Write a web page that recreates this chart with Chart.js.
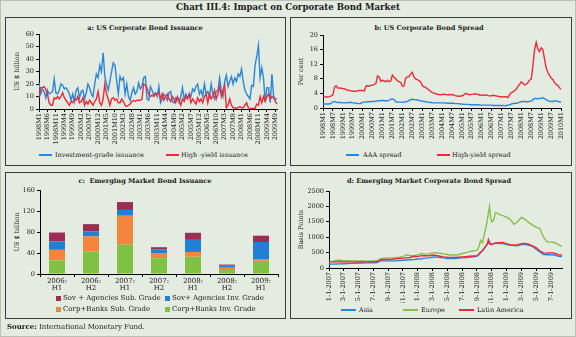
<!DOCTYPE html>
<html>
<head>
<meta charset="utf-8">
<script src="https://cdn.jsdelivr.net/npm/chart.js@4.4.1/dist/chart.umd.min.js"></script>
<style>
body{margin:0;width:576px;height:337px;background:#e4ebe0;position:relative;overflow:hidden;font-family:"DejaVu Serif",serif;color:#1a1a1a;}
.frame{position:absolute;left:0;top:0;width:576px;height:337px;box-sizing:border-box;border:1px solid #b9c1b5;}
.panel{position:absolute;border:1px solid #3a3a3a;box-sizing:border-box;}
.main{position:absolute;top:2px;left:0;width:576px;text-align:center;font-weight:bold;font-size:8.6px;}
.pt{position:absolute;font-weight:bold;font-size:6.6px;transform:translateX(-50%);white-space:nowrap;}
.lt{position:absolute;font-size:6.5px;white-space:nowrap;line-height:8px;}
.ll{position:absolute;height:2px;}
.sq{position:absolute;width:5px;height:5px;}
canvas{position:absolute;}
</style>
</head>
<body>
<div class="frame"></div>
<div class="main">Chart III.4: Impact on Corporate Bond Market</div>

<div class="panel" style="left:5px;top:17px;width:281px;height:149px;"></div>
<div class="panel" style="left:290px;top:17px;width:282px;height:149px;"></div>
<div class="panel" style="left:5px;top:172px;width:281px;height:147px;"></div>
<div class="panel" style="left:290px;top:172px;width:282px;height:147px;"></div>

<div class="pt" style="left:145px;top:24px;">a: US Corporate Bond Issuance</div>
<div class="pt" style="left:429px;top:24px;">b: US Corporate Bond Spread</div>
<div class="pt" style="left:145px;top:177px;">c:&nbsp; Emerging Market Bond Issuance</div>
<div class="pt" style="left:429px;top:177px;">d: Emerging Market Corporate Bond Spread</div>

<canvas id="cA" width="279" height="128" style="left:6px;top:18px;"></canvas>
<canvas id="cB" width="280" height="128" style="left:291px;top:18px;"></canvas>
<canvas id="cC" width="279" height="118" style="left:6px;top:173px;"></canvas>
<canvas id="cD" width="280" height="130" style="left:291px;top:173px;"></canvas>

<!-- legends -->
<div class="ll" style="left:39px;top:154px;width:13px;background:#2a86d8;"></div>
<div class="lt" style="left:55px;top:151px;">Investment-grade issuance</div>
<div class="ll" style="left:166px;top:154px;width:13px;background:#ec2a3c;"></div>
<div class="lt" style="left:181px;top:151px;">High -yield issuance</div>

<div class="ll" style="left:346px;top:154px;width:13px;background:#2a86d8;"></div>
<div class="lt" style="left:363px;top:151px;">AAA spread</div>
<div class="ll" style="left:437px;top:154px;width:13px;background:#ec2a3c;"></div>
<div class="lt" style="left:452px;top:151px;">High-yield spread</div>

<div class="sq" style="left:56px;top:296px;background:#9c2d55;"></div>
<div class="lt" style="left:63px;top:294px;font-size:7px;">Sov + Agencies Sub. Grade</div>
<div class="sq" style="left:165px;top:296px;background:#1f80d4;"></div>
<div class="lt" style="left:172px;top:294px;font-size:7px;">Sov+ Agencies Inv. Grade</div>
<div class="sq" style="left:56px;top:307px;background:#f5843c;"></div>
<div class="lt" style="left:63px;top:305px;font-size:7px;">Corp+Banks Sub. Grade</div>
<div class="sq" style="left:165px;top:307px;background:#80c144;"></div>
<div class="lt" style="left:172px;top:305px;font-size:7px;">Corp+Banks Inv. Grade</div>

<div class="ll" style="left:341px;top:309px;width:15px;background:#2a86d8;"></div>
<div class="lt" style="left:359px;top:306px;">Asia</div>
<div class="ll" style="left:403px;top:309px;width:15px;background:#86bf4a;"></div>
<div class="lt" style="left:421px;top:306px;">Europe</div>
<div class="ll" style="left:459px;top:309px;width:15px;background:#ec2a3c;"></div>
<div class="lt" style="left:477px;top:306px;">Latin America</div>

<div class="lt" style="left:7px;top:323px;font-size:7px;"><b>Source:</b> International Monetary Fund.</div>

<script>
//颜色
var BLUE = "#2a86d8";
var RED = "#ec2a3c";
var GREEN = "#86bf4a";

//a: 美国公司债发行 (US$ bn), 1998M1 起按月
var invGrade = [21,12,16,14,9,15,12,13,14,24,13,12,
	15,20,19,16,17,15,12,7,12,6,15,17,
	9,14,15,8,13,20,17,12,10,20,28,25,
	35,30,45,26,20,15,22,30,37,35,23,12,
	26,23,25,12,20,10,7,13,17,12,14,21,
	16,18,25,26,8,7,18,15,11,13,10,18,
	5,8,12,10,7,13,14,6,5,9,8,5,
	10,17,8,12,9,12,10,16,14,18,20,12,
	15,10,20,12,14,10,20,12,8,14,15,25,
	15,10,22,27,18,22,26,20,25,22,28,26,
	32,22,15,12,10,8,19,18,35,42,51,25,
	33,25,6,17,17,5,28,10,8,8];
var highYield = [9,17,17,18,16,12,5,3,3,9,8,10,
	8,10,13,9,7,5,3,6,5,8,7,10,
	5,6,9,3,6,4,7,5,3,6,8,14,
	5,3,8,20,12,8,3,8,9,7,8,5,
	5,8,6,3,2,3,4,6,7,6,7,7,
	7,8,20,19,17,12,10,11,10,12,12,13,
	8,12,7,10,12,8,6,10,8,5,10,7,
	3,8,6,10,8,12,5,8,6,4,9,6,
	8,5,10,12,5,12,8,10,15,8,12,18,
	10,15,19,1,3,8,3,1,1,0.5,1,2,
	1,1,3,5,1,0.5,0.5,0.5,0.5,4,3,10,
	5,10,6,10,12,8,10,9,6,4];

//b: 美国公司债利差 (per cent), 1998M1 - 2010M1
var hySpread = [3.2,3.1,3.0,3.0,3.1,3.3,3.6,5.8,6.1,5.4,5.5,5.4,
	5.3,5.3,5.0,4.9,4.8,4.7,4.6,4.6,4.6,4.7,4.8,4.8,
	4.8,4.7,6.0,6.1,6.0,6.2,6.2,6.5,6.7,8.8,8.5,7.3,
	7.6,7.4,7.2,7.6,7.2,7.4,9.0,8.4,8.0,7.5,7.2,7.0,
	6.0,6.0,8.2,8.5,8.6,9.3,9.8,8.5,8.0,7.8,7.5,7.2,
	6.2,5.8,5.7,5.3,5.0,4.6,4.3,4.1,3.9,3.8,3.7,3.6,
	3.7,3.8,3.7,3.6,3.7,3.6,3.7,3.6,3.4,3.3,3.2,3.3,
	3.3,3.5,4.0,3.9,3.7,3.6,3.8,3.8,3.9,3.8,3.7,3.5,
	3.6,3.5,3.5,3.6,3.4,3.3,3.4,3.5,3.4,3.3,3.2,3.1,
	3.1,3.0,3.1,3.0,2.9,3.8,4.2,4.4,4.8,5.2,6.0,6.5,
	7.2,6.8,6.3,6.5,7.0,7.6,7.9,11.5,16.0,18.0,16.2,15.5,
	16.5,16.0,13.5,11.0,9.8,9.0,8.2,7.8,7.0,6.5,6.2,5.6,5.1];
var aaaSpread = [1.1,1.1,1.1,1.1,1.1,1.3,1.7,1.8,1.6,1.5,1.5,1.5,
	1.4,1.4,1.4,1.5,1.5,1.5,1.4,1.4,1.3,1.2,1.2,1.3,
	1.6,1.6,1.6,1.7,1.7,1.8,1.8,1.8,1.9,2.0,2.0,2.0,
	2.1,2.0,2.0,2.0,2.1,2.4,2.5,2.3,1.7,1.6,1.6,1.6,
	1.6,1.6,1.7,1.8,2.0,2.3,2.4,2.3,2.3,2.2,2.1,2.0,
	1.9,1.8,1.7,1.6,1.6,1.5,1.5,1.4,1.4,1.4,1.4,1.4,
	1.4,1.4,1.4,1.3,1.3,1.3,1.3,1.3,1.2,1.2,1.2,1.1,
	1.1,1.0,1.0,1.0,1.0,0.9,0.9,0.9,0.9,0.9,0.9,0.8,
	0.8,0.8,0.8,0.8,0.8,0.8,0.8,0.7,0.7,0.7,0.7,0.7,
	0.7,0.7,0.6,0.7,0.8,0.9,1.1,1.2,1.3,1.3,1.4,1.6,
	1.7,1.8,1.8,1.7,1.7,1.8,1.9,2.3,2.6,2.6,2.5,2.6,
	2.7,2.8,2.6,2.3,2.0,1.9,1.8,1.8,1.9,1.9,1.8,1.7,1.6];

//c: 新兴市场债券发行 (US$ bn)
var halves = [["2006:","H1"],["2006:","H2"],["2007:","H1"],["2007:","H2"],["2008:","H1"],["2008:","H2"],["2009:","H1"]];
var corpInv = [26,43,56,30,33,7.5,25];
var corpSub = [20,28.5,55,10,9,4.5,3.5];
var sovInv = [16,9.5,11,7,23,4,32.5];
var sovSub = [17,14,15,4,13.5,2,12];

//d: 新兴市场公司债利差 (bp), x = 自 2007-1-1 起的月数
var emMonths = [0,0.5,1,1.5,2,2.5,3,3.5,4,4.5,5,5.5,6,6.5,7,7.5,8,8.5,9,9.5,
	10,10.5,11,11.5,12,12.5,13,13.5,14,14.5,15,15.5,16,16.5,17,17.5,18,18.5,19,19.5,20,
	20.25,20.5,20.75,21,21.2,21.4,21.55,21.7,21.85,22,22.25,22.5,22.75,23,
	23.5,24,24.5,25,25.5,26,26.5,27,27.5,28,28.5,29,29.5,30,30.5,31,31.5];
var europe = [200,210,250,250,240,235,230,230,225,225,220,220,225,230,300,320,330,330,335,350,
	370,430,400,400,420,470,450,460,490,500,480,460,440,420,420,430,470,500,530,560,570,
	680,900,820,1100,1300,1550,1800,2000,1650,1500,1550,1800,1780,1740,
	1700,1650,1580,1420,1500,1640,1580,1480,1400,1330,1280,1000,850,840,830,760,700];
var latAm = [200,200,200,205,200,200,200,200,195,200,200,205,200,210,270,275,280,285,300,310,
	320,330,340,380,370,400,400,400,420,410,380,360,350,345,340,350,360,370,380,390,400,
	450,520,560,650,700,780,920,800,760,760,790,810,820,825,
	830,790,760,750,760,790,800,770,720,660,560,490,480,500,480,430,420];
var asia = [120,125,130,135,140,145,150,155,160,160,165,165,170,175,230,230,230,230,230,240,
	250,260,270,275,290,300,320,330,350,360,340,330,310,305,310,320,330,340,350,365,380,
	430,500,560,640,700,780,800,850,780,770,790,800,800,795,
	790,760,740,725,720,760,770,740,700,610,520,440,430,430,420,380,370];

//月份标签
function monthLabels(count){
	var out = [];
	for (var i = 0; i < count; i++){
		out.push((1998 + Math.floor(i / 12)) + "M" + (i % 12 + 1));
	}
	return out;
}
var monthsA = monthLabels(invGrade.length);
var monthsB = monthLabels(hySpread.length);

//全局样式
Chart.defaults.font.family = '"DejaVu Serif", serif';
Chart.defaults.font.size = 6.5;
Chart.defaults.color = "#1a1a1a";
Chart.defaults.animation = false;
Chart.defaults.responsive = false;
Chart.defaults.devicePixelRatio = 1;
Chart.defaults.plugins.legend.display = false;
Chart.defaults.plugins.tooltip.enabled = false;
Chart.defaults.elements.point.radius = 0;
Chart.defaults.elements.line.borderWidth = 1.4;

//坐标轴线 + 刻度
var axisGrid = {drawOnChartArea: false, color: "#000", tickLength: 3, lineWidth: 1};
var axisBorder = {color: "#000", width: 1};

function yAxis(min, max, step, title, titlePad, width){
	return {
		min: min, max: max,
		grid: axisGrid, border: axisBorder,
		ticks: {stepSize: step, padding: 2, callback: function(v){ return v; }},
		title: {display: true, text: title, padding: {top: titlePad, bottom: 0}},
		afterFit: function(s){ s.width = width; }
	};
}

function monthAxis(labels, every, height){
	return {
		grid: axisGrid, border: axisBorder,
		ticks: {autoSkip: false, maxRotation: 90, minRotation: 90, padding: 1,
			callback: function(v, i){ return i % every === 0 ? labels[i] : null; }},
		afterFit: function(s){ s.height = height; }
	};
}

//a
new Chart(document.getElementById("cA"), {
	type: "line",
	data: {labels: monthsA, datasets: [
		{data: highYield, borderColor: RED, order: 1},
		{data: invGrade, borderColor: BLUE, order: 2}
	]},
	options: {
		layout: {padding: {left: 0, right: 8, top: 16, bottom: 0}},
		scales: {x: monthAxis(monthsA, 5, 37), y: yAxis(0, 60, 10, "US $ billion", 7, 33)}
	}
});

//b
new Chart(document.getElementById("cB"), {
	type: "line",
	data: {labels: monthsB, datasets: [
		{data: hySpread, borderColor: RED, order: 1},
		{data: aaaSpread, borderColor: BLUE, order: 2}
	]},
	options: {
		layout: {padding: {left: 0, right: 10, top: 17, bottom: 0}},
		scales: {x: monthAxis(monthsB, 6, 38), y: yAxis(0, 20, 2, "Per cent", 6, 32)}
	}
});

//c
new Chart(document.getElementById("cC"), {
	type: "bar",
	data: {labels: halves, datasets: [
		{data: corpInv, backgroundColor: "#80c144"},
		{data: corpSub, backgroundColor: "#f5843c"},
		{data: sovInv, backgroundColor: "#1f80d4"},
		{data: sovSub, backgroundColor: "#9c2d55"}
	]},
	options: {
		datasets: {bar: {categoryPercentage: 1, barPercentage: 0.47}},
		layout: {padding: {left: 0, right: 7, top: 17, bottom: 0}},
		scales: {
			x: {stacked: true, grid: axisGrid, border: axisBorder,
				ticks: {padding: 1, font: {size: 7, lineHeight: 0.95}},
				afterFit: function(s){ s.height = 17; }},
			y: Object.assign(yAxis(0, 160, 20, "US $ billion", 7, 34), {stacked: true})
		}
	}
});

//d
function pts(arr){
	return emMonths.map(function(m, i){ return {x: m, y: arr[i]}; });
}
new Chart(document.getElementById("cD"), {
	type: "line",
	data: {datasets: [
		{data: pts(latAm), borderColor: RED, order: 1},
		{data: pts(asia), borderColor: BLUE, order: 2},
		{data: pts(europe), borderColor: GREEN, order: 3}
	]},
	options: {
		layout: {padding: {left: 0, right: 9, top: 18, bottom: 0}},
		scales: {
			x: {type: "linear", min: 0, max: emMonths[emMonths.length - 1],
				grid: axisGrid, border: axisBorder,
				ticks: {stepSize: 2, autoSkip: false, includeBounds: false, maxRotation: 90, minRotation: 90, padding: 1,
					callback: function(v){
						if (v % 2 !== 0) return null;
						return (v % 12 + 1) + "-1-" + (2007 + Math.floor(v / 12));
					}},
				afterFit: function(s){ s.height = 35; }},
			y: yAxis(0, 2500, 500, "Basis Points", 6, 38)
		}
	}
});
</script>
</body>
</html>
